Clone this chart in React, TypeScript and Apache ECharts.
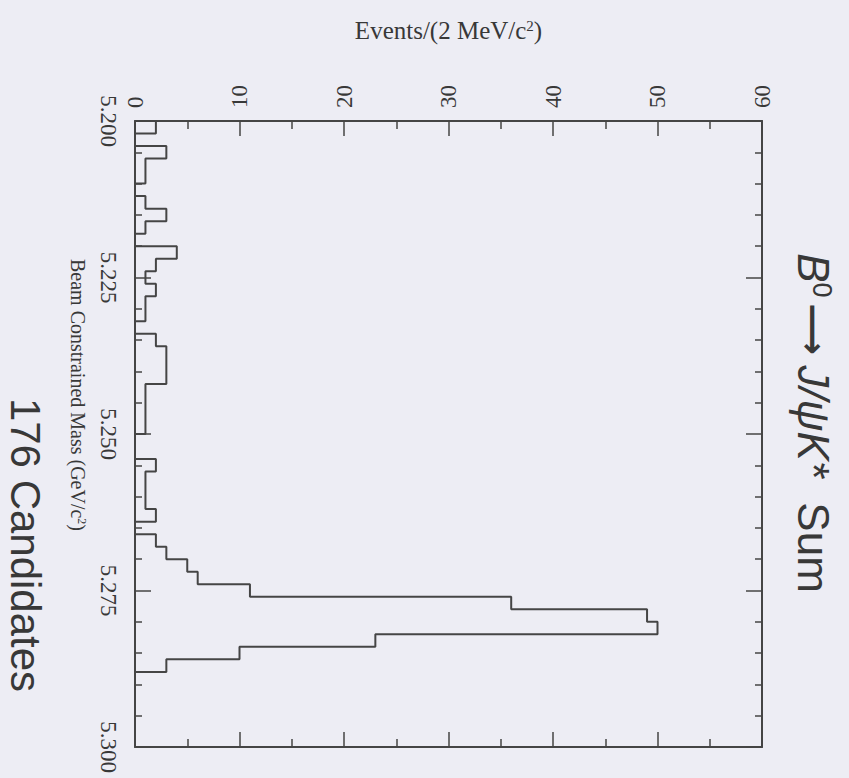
import React, { useEffect, useRef } from 'react';
import * as echarts from 'echarts';

// Mass bins (GeV/c^2), low edges, 2 MeV wide
const massBinLow = [
  5.200, 5.202, 5.204, 5.206, 5.208, 5.210, 5.212, 5.214, 5.216, 5.218,
  5.220, 5.222, 5.224, 5.226, 5.228, 5.230, 5.232, 5.234, 5.236, 5.238,
  5.240, 5.242, 5.244, 5.246, 5.248, 5.250, 5.252, 5.254, 5.256, 5.258,
  5.260, 5.262, 5.264, 5.266, 5.268, 5.270, 5.272, 5.274, 5.276, 5.278,
  5.280, 5.282, 5.284, 5.286, 5.288, 5.290, 5.292, 5.294, 5.296, 5.298,
];
const binWidth = 0.002;

// Events per bin
const counts = [
  2, 0, 3, 1, 1, 0, 1, 3, 1, 0,
  4, 2, 1, 2, 1, 1, 0, 2, 3, 3,
  3, 1, 1, 1, 1, 0, 0, 2, 1, 1,
  1, 2, 0, 2, 3, 5, 6, 11, 36, 49,
  50, 23, 10, 3, 0, 0, 0, 0, 0, 0,
];

const eventsAxis = { min: 0, max: 60, interval: 10 };
const massAxis = { min: 5.2, max: 5.3, interval: 0.025 };

const titleText = '{i|B}{sup|0}{a|⟶}{i|J/ψK*}{n|  Sum}';
const candidatesText = '176 Candidates';
const eventsAxisName = '{t|Events/(2 MeV/c}{s|2}{t|)}';
const massAxisName = '{t|Beam Constrained Mass (GeV/c}{s|2}{t|)}';

const LINE = '#454545';
const TEXT = '#383838';
const BG = '#ededf4';
const SERIF = '"Liberation Serif", "DejaVu Serif", serif';
const SANS = '"Liberation Sans", Arial, sans-serif';

export default function App() {
  const ref = useRef<HTMLDivElement>(null);

  useEffect(() => {
    if (!ref.current) return;
    const chart = echarts.init(ref.current, undefined, { renderer: 'svg' });

    const stepPoints: [number, number][] = [];
    counts.forEach((c, i) => {
      stepPoints.push([c, massBinLow[i]]);
      stepPoints.push([c, massBinLow[i] + binWidth]);
    });

    const tickCommon = {
      axisLine: { show: true, onZero: false, lineStyle: { color: LINE, width: 2 } },
      axisTick: { show: true, inside: true, length: 15, lineStyle: { color: LINE, width: 1.5 } },
      splitLine: { show: false },
    };

    const xBase = {
      type: 'value' as const,
      min: eventsAxis.min,
      max: eventsAxis.max,
      interval: eventsAxis.interval,
      ...tickCommon,
      minorTick: { show: true, splitNumber: 2, length: 8, lineStyle: { color: LINE, width: 1.5 } },
    };
    const yBase = {
      type: 'value' as const,
      min: massAxis.min,
      max: massAxis.max,
      interval: massAxis.interval,
      inverse: true,
      ...tickCommon,
      axisTick: { show: true, inside: true, length: 16, lineStyle: { color: LINE, width: 1.5 } },
      minorTick: { show: true, splitNumber: 5, length: 7, lineStyle: { color: LINE, width: 1.5 } },
    };

    chart.setOption({
      animation: false,
      backgroundColor: BG,
      grid: { left: 135, right: 87, top: 121, bottom: 31, containLabel: false },
      xAxis: [
        {
          ...xBase,
          position: 'top',
          axisLabel: {
            show: true,
            rotate: -90,
            margin: 13,
            fontFamily: SERIF,
            fontSize: 23,
            color: TEXT,
            showMinLabel: true,
            showMaxLabel: true,
          },
          name: eventsAxisName,
          nameLocation: 'middle',
          nameGap: 78,
          nameTextStyle: {
            color: TEXT,
            rich: {
              t: { fontFamily: SERIF, fontSize: 25, color: TEXT },
              s: { fontFamily: SERIF, fontSize: 15, color: TEXT, verticalAlign: 'top' },
            },
          },
        },
        {
          ...xBase,
          position: 'bottom',
          axisLabel: { show: false },
        },
      ],
      yAxis: [
        {
          ...yBase,
          position: 'left',
          axisLabel: {
            show: true,
            rotate: -90,
            margin: 15,
            fontFamily: SERIF,
            fontSize: 23,
            color: TEXT,
            showMinLabel: true,
            showMaxLabel: true,
            formatter: (v: number) => v.toFixed(3),
          },
        },
        {
          ...yBase,
          position: 'right',
          axisLabel: { show: false },
        },
      ],
      series: [
        {
          type: 'line',
          xAxisIndex: 0,
          yAxisIndex: 0,
          data: stepPoints,
          symbol: 'none',
          lineStyle: { color: LINE, width: 2 },
          silent: true,
        },
      ],
      graphic: [
        {
          type: 'text',
          x: 813,
          y: 423,
          rotation: -Math.PI / 2,
          style: {
            text: titleText,
            align: 'center',
            verticalAlign: 'middle',
            textAlign: 'center',
            textVerticalAlign: 'middle',
            fill: TEXT,
            font: '44px ' + SANS,
            rich: {
              i: { fontFamily: SANS, fontSize: 44, fontStyle: 'italic', fill: TEXT, color: TEXT },
              n: { fontFamily: SANS, fontSize: 44, fill: TEXT, color: TEXT },
              a: { fontFamily: '"DejaVu Sans", sans-serif', fontSize: 36, fontWeight: 'bold', fill: TEXT, color: TEXT, padding: [0, 10, 0, 6] },
              sup: { fontFamily: SANS, fontSize: 27, fill: TEXT, color: TEXT, verticalAlign: 'top' },
            },
          },
        },
        {
          type: 'text',
          x: 25,
          y: 545,
          rotation: -Math.PI / 2,
          style: {
            text: candidatesText,
            align: 'center',
            verticalAlign: 'middle',
            textAlign: 'center',
            textVerticalAlign: 'middle',
            fill: TEXT,
            font: '42px ' + SANS,
          },
        },
        {
          type: 'text',
          x: 78,
          y: 395,
          rotation: -Math.PI / 2,
          style: {
            text: massAxisName,
            align: 'center',
            verticalAlign: 'middle',
            textAlign: 'center',
            textVerticalAlign: 'middle',
            fill: TEXT,
            font: '20px ' + SERIF,
            rich: {
              t: { fontFamily: SERIF, fontSize: 20, fill: TEXT, color: TEXT },
              s: { fontFamily: SERIF, fontSize: 12, fill: TEXT, color: TEXT, verticalAlign: 'top' },
            },
          },
        },
      ],
    });

    return () => chart.dispose();
  }, []);

  return (
    <div
      ref={ref}
      style={{ position: 'fixed', left: 0, top: 0, width: 849, height: 778 }}
    />
  );
}
